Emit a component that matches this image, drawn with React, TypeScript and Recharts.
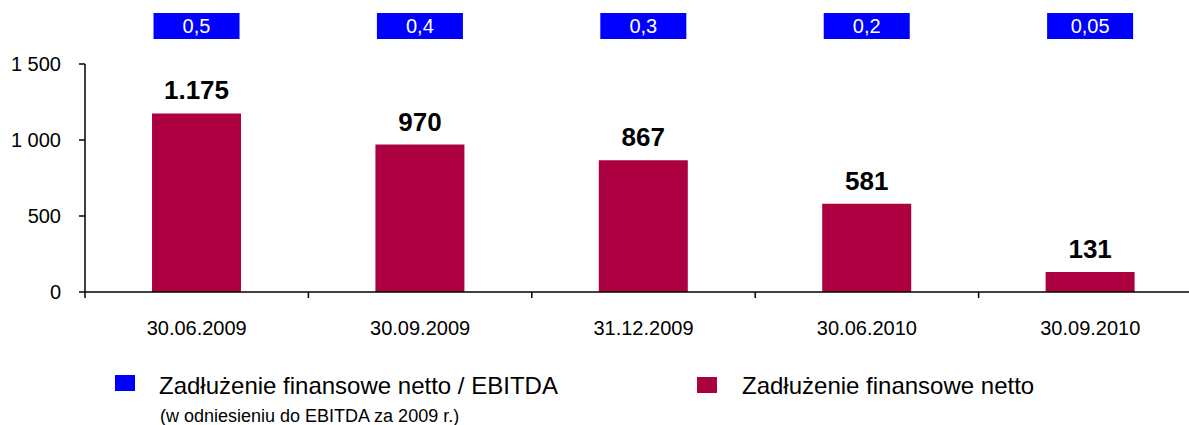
import { Bar, BarChart, LabelList, XAxis, YAxis } from "recharts"

const categories = ['30.06.2009', '30.09.2009', '31.12.2009', '30.06.2010', '30.09.2010']
const netDebt = [1175, 970, 867, 581, 131]
const debtToEbitda = [0.5, 0.4, 0.3, 0.2, 0.05]
const yTicks = [0, 500, 1000, 1500]

const seriesNames = {
  ratio: 'Zadłużenie finansowe netto / EBITDA',
  ratioNote: '(w odniesieniu do EBITDA za 2009 r.)',
  netDebt: 'Zadłużenie finansowe netto',
}

const BAR_COLOR = '#AD0040'
const BOX_COLOR = '#0000FF'
const FONT = '"Liberation Sans", Arial, Helvetica, sans-serif'

const CHART_W = 1194
const CHART_H = 417
const Y_W = 77
const BAND = (CHART_W - Y_W) / categories.length

const data = categories.map((name, i) => ({
  name,
  netDebt: netDebt[i],
  ratio: debtToEbitda[i],
}))

const formatThousandsSpace = (v: number) =>
  v >= 1000 ? `${Math.floor(v / 1000)} ${String(v % 1000).padStart(3, '0')}` : String(v)

const formatThousandsDot = (v: number) =>
  v >= 1000 ? `${Math.floor(v / 1000)}.${String(v % 1000).padStart(3, '0')}` : String(v)

const formatRatio = (v: number) => String(v).replace('.', ',')

function CategoryTick(props: any) {
  const { x, y, payload, index } = props
  const half = BAND / 2
  return (
    <g>
      {index === 0 && <line x1={x - half} x2={x - half} y1={y - 6} y2={y} stroke="#000" strokeWidth={1.5} />}
      <line x1={x + half} x2={x + half} y1={y - 6} y2={y} stroke="#000" strokeWidth={1.5} />
      <text x={x} y={y + 37} textAnchor="middle" fontSize={20} fontFamily={FONT} fill="#000">
        {payload.value}
      </text>
    </g>
  )
}

function RatioBox(props: any) {
  const { x, width, value } = props
  const boxY = 5
  return (
    <g>
      <rect x={x + 1.5} y={boxY} width={width - 3} height={26} fill={BOX_COLOR} />
      <text x={x + width / 2} y={boxY + 20} textAnchor="middle" fontSize={20} fontFamily={FONT} fill="#fff">
        {formatRatio(value)}
      </text>
    </g>
  )
}

export default function App() {
  return (
    // fixed frame so the oversize chart never adds scrollbars
    <div style={{ position: 'fixed', left: 0, top: 0, width: 1189, height: 425, overflow: 'hidden', background: '#fff', fontFamily: FONT }}>
      <div style={{ position: 'absolute', left: 8, top: 8 }}>
        <BarChart
          width={CHART_W}
          height={CHART_H}
          data={data}
          margin={{ top: 56, right: 0, bottom: 93, left: 0 }}
          barCategoryGap="30%"
        >
          <XAxis
            dataKey="name"
            interval={0}
            height={40}
            tickLine={false}
            tickSize={6}
            tickMargin={0}
            axisLine={{ stroke: '#000', strokeWidth: 1.5 }}
            tick={<CategoryTick />}
          />
          <YAxis
            width={Y_W}
            domain={[0, 1500]}
            ticks={yTicks}
            interval={0}
            tickFormatter={formatThousandsSpace}
            tickSize={6}
            tickMargin={18}
            axisLine={{ stroke: '#000', strokeWidth: 1.5 }}
            tickLine={{ stroke: '#000', strokeWidth: 1.5 }}
            tick={{ fill: '#000', fontSize: 20, fontFamily: FONT }}
          />
          <Bar dataKey="netDebt" name={seriesNames.netDebt} fill={BAR_COLOR} isAnimationActive={false}>
            <LabelList
              dataKey="netDebt"
              position="top"
              offset={14}
              formatter={(v: any) => formatThousandsDot(Number(v))}
              fill="#000"
              fontSize={26}
              fontWeight="bold"
              fontFamily={FONT}
            />
            <LabelList dataKey="ratio" content={<RatioBox />} />
          </Bar>
        </BarChart>
      </div>
      <svg width={1189} height={425} style={{ position: 'absolute', left: 0, top: 0, pointerEvents: 'none' }}>
        <rect x={115} y={375} width={20} height={16} fill={BOX_COLOR} />
        <text x={159} y={394} fontSize={24} fontFamily={FONT} fill="#000">{seriesNames.ratio}</text>
        <text x={160} y={422} fontSize={18} fontFamily={FONT} fill="#000">{seriesNames.ratioNote}</text>
        <rect x={697} y={377} width={20} height={16} fill={BAR_COLOR} />
        <text x={742} y={394} fontSize={24} fontFamily={FONT} fill="#000">{seriesNames.netDebt}</text>
      </svg>
    </div>
  )
}
